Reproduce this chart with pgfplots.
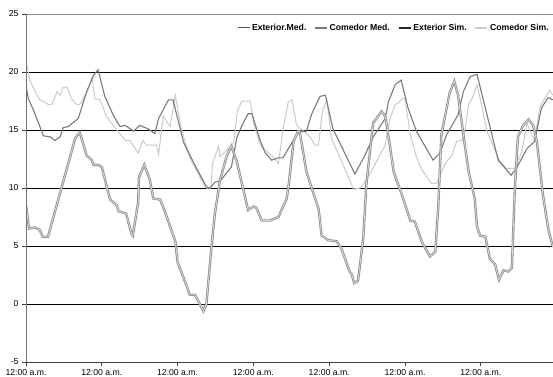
\documentclass[border=0pt]{standalone}
\usepackage{fontspec}
\setmainfont{Liberation Sans}
\usepackage{pgfplots}
\pgfplotsset{compat=1.18}
\usetikzlibrary{calc}
\definecolor{extmed}{HTML}{555555}
\definecolor{commed}{HTML}{7A7A7A}
\definecolor{comsim}{HTML}{CACACA}
\definecolor{extline}{HTML}{8E8E8E}
\definecolor{extcore}{HTML}{D9D9D9}
\begin{document}
\begin{tikzpicture}
\begin{axis}[
  scale only axis, width=527bp, height=348bp,
  xmin=0, xmax=6.953, ymin=-5, ymax=25,
  xtick={0,1,2,3,4,5,6},
  xticklabels={12:00 a.m.,12:00 a.m.,12:00 a.m.,12:00 a.m.,12:00 a.m.,12:00 a.m.,12:00 a.m.},
  ytick={-5,0,5,10,15,20,25},
  axis line style={draw=none},
  tick align=outside, xtick pos=bottom, ytick pos=left,
  major tick length=4bp,
  tick style={color=black!75, line width=0.8bp},
  ticklabel style={font=\fontsize{8.7}{10}\selectfont},
  /pgf/number format/assume math mode=true,
  extra y ticks={0,5,10,15,20}, extra y tick labels={},
  extra y tick style={grid=major, major grid style={black, line width=0.9bp}, major tick length=0pt},
  legend columns=4,
  legend style={draw=none, fill=none, anchor=east, at={(rel axis cs:1,0.96)}, xshift=-2bp,
    font=\bfseries\fontsize{8.7}{10}\selectfont, inner sep=0pt,
    /tikz/every even column/.append style={column sep=6bp}},
  legend image code/.code={\draw[#1] (0bp,0bp) -- (12bp,0bp);},
]
\addlegendimage{color=extmed, line width=0.9bp}\addlegendentry{Exterior.Med.}
\addlegendimage{color=commed, line width=1.2bp}\addlegendentry{Comedor Med.}
\addlegendimage{color=black!85, line width=1.6bp}\addlegendentry{Exterior Sim.}
\addlegendimage{color=comsim, line width=1.2bp}\addlegendentry{Comedor Sim.}

% Comedor Sim.
\addplot[color=comsim, line width=1bp, forget plot] coordinates {
(0.00,21.0)(0.05,19.3)(0.10,18.6)(0.18,17.6)(0.25,17.4)(0.29,17.2)(0.34,17.2)(0.41,18.3)(0.45,18.0)(0.49,18.7)(0.54,18.7)(0.60,17.7)(0.67,17.2)(0.71,17.2)(0.80,18.2)(0.87,19.5)(0.91,17.7)(0.98,17.6)(1.06,16.2)(1.15,15.4)(1.31,14.1)(1.37,14.1)(1.48,13.0)(1.54,14.1)(1.59,13.7)(1.72,13.7)(1.75,12.9)(1.81,16.2)(1.90,15.3)(1.97,18.0)(2.05,15.1)(2.16,12.6)(2.34,10.4)(2.38,10.0)(2.44,10.0)(2.46,12.1)(2.54,13.6)(2.56,12.7)(2.67,13.4)(2.74,13.9)(2.79,16.7)(2.85,17.5)(2.96,17.5)(3.00,15.7)(3.09,13.7)(3.15,13.3)(3.26,12.7)(3.33,12.1)(3.39,15.0)(3.46,17.4)(3.51,17.6)(3.57,15.4)(3.68,14.8)(3.75,14.4)(3.81,13.7)(3.86,13.7)(3.91,16.6)(3.97,17.6)(4.03,14.3)(4.23,11.3)(4.32,9.9)(4.41,10.0)(4.52,11.0)(4.74,13.7)(4.80,15.9)(4.87,17.2)(4.91,17.3)(4.96,17.7)(5.00,17.7)(5.07,14.6)(5.15,12.7)(5.22,11.6)(5.35,10.4)(5.42,10.4)(5.53,12.1)(5.62,12.8)(5.68,14.0)(5.75,14.1)(5.79,15.0)(5.84,17.2)(5.90,17.9)(5.95,18.9)(6.01,17.2)(6.08,14.9)(6.25,12.3)(6.34,11.7)(6.45,11.7)(6.54,13.1)(6.61,15.6)(6.65,14.9)(6.71,14.1)(6.78,17.0)(6.87,18.0)(6.91,18.4)(6.95,18.0)
};
% Comedor Med.
\addplot[color=commed, line width=1.1bp, forget plot] coordinates {
(0.00,18.9)(0.03,17.7)(0.10,16.7)(0.23,14.5)(0.32,14.4)(0.38,14.1)(0.45,14.4)(0.49,15.2)(0.56,15.3)(0.69,16.0)(0.80,18.3)(0.89,19.7)(0.95,20.2)(1.04,17.9)(1.15,16.3)(1.24,15.3)(1.31,15.4)(1.42,14.9)(1.50,15.4)(1.61,15.1)(1.70,14.7)(1.75,16.0)(1.88,17.6)(1.94,17.6)(2.08,13.9)(2.25,11.7)(2.38,10.1)(2.43,10.0)(2.49,10.5)(2.56,10.6)(2.71,11.8)(2.78,14.3)(2.85,15.4)(2.93,16.4)(2.98,16.4)(3.09,14.1)(3.15,13.1)(3.24,12.4)(3.33,12.6)(3.39,12.6)(3.48,13.6)(3.59,14.8)(3.70,14.9)(3.77,16.4)(3.88,17.9)(3.95,18.0)(4.05,15.1)(4.34,11.2)(4.47,12.8)(4.58,14.4)(4.74,16.0)(4.78,17.4)(4.87,18.9)(4.95,19.3)(5.04,16.9)(5.15,14.9)(5.37,12.4)(5.46,13.0)(5.55,14.6)(5.70,16.3)(5.77,18.3)(5.86,19.6)(5.95,19.8)(6.06,16.9)(6.23,12.4)(6.40,11.1)(6.47,11.7)(6.61,13.4)(6.71,14.0)(6.80,16.9)(6.89,17.8)(6.95,17.6)
};
% Exterior Med.
\addplot[color=extline, line width=2.4bp, forget plot] coordinates {
(0.00,8.5)(0.04,6.5)(0.12,6.6)(0.18,6.4)(0.22,5.8)(0.29,5.8)(0.65,14.3)(0.71,14.8)(0.80,12.8)(0.87,12.4)(0.89,12.0)(0.95,12.0)(1.00,11.8)(1.11,9.0)(1.20,8.5)(1.22,8.0)(1.32,7.8)(1.39,6.1)(1.41,5.9)(1.48,8.8)(1.49,10.9)(1.56,12.0)(1.63,10.8)(1.68,9.1)(1.77,9.0)(1.83,8.0)(1.97,5.4)(2.00,3.6)(2.10,1.9)(2.16,0.8)(2.23,0.8)(2.34,-0.6)(2.38,0.0)(2.45,5.1)(2.49,7.7)(2.56,10.7)(2.65,12.8)(2.71,13.6)(2.78,12.3)(2.93,8.1)(3.00,8.4)(3.04,8.3)(3.11,7.2)(3.22,7.2)(3.33,7.5)(3.44,9.1)(3.47,10.5)(3.53,14.0)(3.59,14.9)(3.61,14.9)(3.70,11.4)(3.86,8.2)(3.90,5.9)(3.99,5.5)(4.10,5.4)(4.16,4.8)(4.27,2.8)(4.30,2.5)(4.33,1.8)(4.38,2.0)(4.45,5.7)(4.49,10.3)(4.58,15.6)(4.69,16.6)(4.74,16.2)(4.80,13.7)(4.85,11.4)(4.96,9.4)(5.07,7.2)(5.13,7.1)(5.22,5.4)(5.26,4.9)(5.33,4.1)(5.40,4.5)(5.44,8.5)(5.48,14.6)(5.59,18.2)(5.65,19.2)(5.70,18.0)(5.79,13.7)(5.84,11.4)(5.92,9.1)(5.95,6.7)(5.99,5.9)(6.06,5.8)(6.12,3.9)(6.19,3.4)(6.24,2.1)(6.30,2.9)(6.36,2.8)(6.41,3.1)(6.45,10.0)(6.49,14.4)(6.56,15.4)(6.63,15.9)(6.69,15.4)(6.74,14.0)(6.82,9.4)(6.89,6.5)(6.95,4.9)
};
% Exterior Sim.
\addplot[color=extcore, line width=0.8bp, forget plot] coordinates {
(0.00,8.5)(0.04,6.5)(0.12,6.6)(0.18,6.4)(0.22,5.8)(0.29,5.8)(0.65,14.3)(0.71,14.8)(0.80,12.8)(0.87,12.4)(0.89,12.0)(0.95,12.0)(1.00,11.8)(1.11,9.0)(1.20,8.5)(1.22,8.0)(1.32,7.8)(1.39,6.1)(1.41,5.9)(1.48,8.8)(1.49,10.9)(1.56,12.0)(1.63,10.8)(1.68,9.1)(1.77,9.0)(1.83,8.0)(1.97,5.4)(2.00,3.6)(2.10,1.9)(2.16,0.8)(2.23,0.8)(2.34,-0.6)(2.38,0.0)(2.45,5.1)(2.49,7.7)(2.56,10.7)(2.65,12.8)(2.71,13.6)(2.78,12.3)(2.93,8.1)(3.00,8.4)(3.04,8.3)(3.11,7.2)(3.22,7.2)(3.33,7.5)(3.44,9.1)(3.47,10.5)(3.53,14.0)(3.59,14.9)(3.61,14.9)(3.70,11.4)(3.86,8.2)(3.90,5.9)(3.99,5.5)(4.10,5.4)(4.16,4.8)(4.27,2.8)(4.30,2.5)(4.33,1.8)(4.38,2.0)(4.45,5.7)(4.49,10.3)(4.58,15.6)(4.69,16.6)(4.74,16.2)(4.80,13.7)(4.85,11.4)(4.96,9.4)(5.07,7.2)(5.13,7.1)(5.22,5.4)(5.26,4.9)(5.33,4.1)(5.40,4.5)(5.44,8.5)(5.48,14.6)(5.59,18.2)(5.65,19.2)(5.70,18.0)(5.79,13.7)(5.84,11.4)(5.92,9.1)(5.95,6.7)(5.99,5.9)(6.06,5.8)(6.12,3.9)(6.19,3.4)(6.24,2.1)(6.30,2.9)(6.36,2.8)(6.41,3.1)(6.45,10.0)(6.49,14.4)(6.56,15.4)(6.63,15.9)(6.69,15.4)(6.74,14.0)(6.82,9.4)(6.89,6.5)(6.95,4.9)
};
\draw[color=black!45, line width=0.9bp] (rel axis cs:0,1) -- (rel axis cs:1,1);
\draw[color=black!55, line width=1.4bp] (rel axis cs:0,0) -- (rel axis cs:0,1);
\draw[color=black!75, line width=1bp] (rel axis cs:0,0) -- (rel axis cs:1,0);
\end{axis}
\pgfresetboundingbox
\path ($(current axis.south west)+(-26bp,-15bp)$) rectangle ($(current axis.north east)+(0bp,14bp)$);
\end{tikzpicture}
\end{document}
